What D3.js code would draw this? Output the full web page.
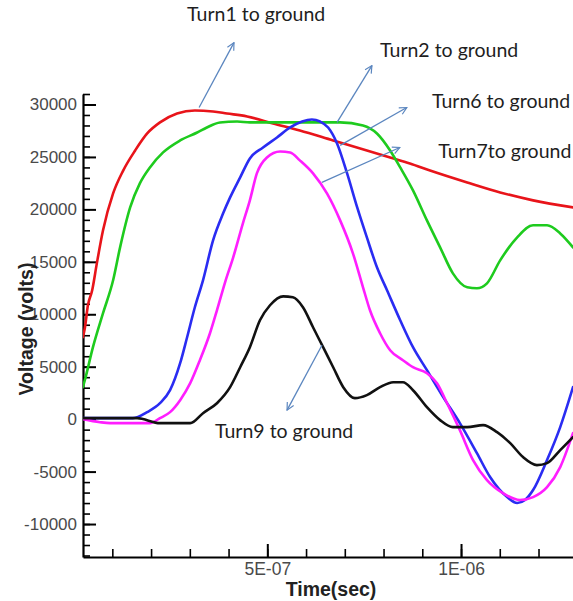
<!DOCTYPE html>
<html>
<head>
<meta charset="utf-8">
<script src="https://cdn.jsdelivr.net/npm/d3@7"></script>
<style>
  html, body { margin: 0; padding: 0; background: #fff; }
  svg { display: block; }
</style>
</head>
<body>
<svg id="chart" width="573" height="601"></svg>
<script>
// ---- data (time in ns, voltage in volts) ----
const turn1 = [[24,7810],[29,8670],[37,10850],[48,12290],[60,14850],[76,18000],[102,21520],[128,23700],[159,25620],[190,27240],[223,28290],[267,29140],[313,29430],[360,29330],[396,29140],[448,28860],[515,28190],[584,27520],[670,26570],[757,25620],[817,24950],[868,24380],[920,23710],[1016,22570],[1101,21620],[1186,20860],[1289,20190]];
const turn7 = [[24,3050],[29,3710],[50,6860],[76,10100],[102,13240],[120,16380],[146,20190],[171,22480],[197,24000],[231,25430],[275,26570],[319,27330],[344,27810],[378,28290],[422,28380],[455,28290],[515,28290],[603,28290],[688,28290],[747,28000],[783,27240],[817,25620],[843,24000],[876,21810],[912,18950],[946,16380],[979,13900],[1016,12570],[1041,12480],[1067,12950],[1101,15140],[1145,17330],[1186,18480],[1222,18480],[1256,17710],[1289,16380]];
const turn2 = [[24,95],[153,95],[190,670],[223,1520],[249,2760],[275,5330],[293,7810],[313,10670],[334,13240],[360,17050],[386,19620],[404,21140],[430,23050],[455,24860],[489,25900],[525,26860],[559,27810],[590,28380],[615,28570],[636,28380],[657,27810],[680,26290],[706,23430],[732,20190],[757,17330],[783,14480],[809,12290],[843,9430],[876,6860],[912,4670],[954,2100],[997,-380],[1041,-3240],[1075,-5520],[1119,-7430],[1145,-8000],[1165,-7710],[1186,-6760],[1222,-3900],[1256,-760],[1289,3050]];
const turn6 = [[24,0],[68,-290],[94,-380],[197,-380],[223,95],[249,670],[275,1810],[301,3430],[326,5620],[352,8190],[370,10380],[391,13050],[412,15430],[437,18670],[455,20860],[473,23430],[499,24950],[533,25520],[559,25430],[584,24670],[618,23430],[654,21520],[688,18950],[721,15810],[747,12570],[765,10380],[791,8190],[817,6570],[850,5620],[876,4950],[912,4380],[938,3430],[964,1520],[997,-1050],[1031,-3900],[1067,-5810],[1108,-7050],[1152,-7710],[1186,-7430],[1222,-6480],[1256,-4570],[1289,-1330]];
const turn9 = [[24,95],[164,95],[223,-380],[301,-380],[334,570],[370,1520],[404,3050],[430,4950],[455,6860],[481,9430],[507,10860],[541,11710],[566,11620],[592,10670],[618,8760],[644,6860],[670,4950],[696,3050],[726,2000],[757,2290],[791,3050],[825,3520],[850,3520],[876,2760],[912,1140],[946,-95],[979,-760],[1016,-760],[1057,-570],[1093,-1240],[1127,-2290],[1160,-3620],[1196,-4380],[1222,-4190],[1256,-2950],[1289,-1710]];

const seriesNames = ["Turn1", "Turn7", "Turn2", "Turn6", "Turn9"];
const seriesData  = [turn1, turn7, turn2, turn6, turn9];
const seriesColors = ["#e8141a", "#1ecb1e", "#2a2cf2", "#ff1eff", "#111111"];

const xTickValues = [500, 1000];            // ns
const xTickLabels = ["5E-07", "1E-06"];
const yTickValues = [-10000, -5000, 0, 5000, 10000, 15000, 20000, 25000, 30000];
const yTickLabels = ["-10000", "-5000", "0", "5000", "10000", "15000", "20000", "25000", "30000"];

// annotation labels: text, text anchor point, arrow from, arrow to (data coords)
const annLabels = ["Turn1 to ground", "Turn2 to ground", "Turn6 to ground", "Turn7to ground", "Turn9 to ground"];
const annText   = [[293,37950],[791,34480],[925,29620],[941,24860],[365,-1810]];
const annFrom   = [[324,29710],[680,28290],[688,26100],[641,22570],[641,7050]];
const annTo     = [[414,35900],[770,33710],[860,29710],[842,25900],[551,860]];

// ---- layout ----
const W = 573, H = 601;
const L = 83, R = 573, T = 94, B = 557;

const svg = d3.select("#chart");
const x = d3.scaleLinear().domain([24.3, 1289]).range([L, R]);
const y = d3.scaleLinear().domain([-13143, 31000]).range([B, T]);

svg.append("defs").append("clipPath").attr("id", "clip")
  .append("rect").attr("x", L).attr("y", 0).attr("width", R - L).attr("height", B);

// minor ticks
const yMinor = d3.range(-13000, 31001, 1000);
svg.append("g").attr("transform", `translate(${L},0)`)
  .call(d3.axisLeft(y).tickValues(yMinor).tickSizeInner(-7).tickSizeOuter(0).tickFormat(""))
  .call(g => g.select(".domain").remove())
  .call(g => g.selectAll("line").attr("stroke", "#000").attr("stroke-width", 1.6));
const xMinor = d3.range(100, 1289, 100);
svg.append("g").attr("transform", `translate(0,${B})`)
  .call(d3.axisBottom(x).tickValues(xMinor).tickSizeInner(-8).tickSizeOuter(0).tickFormat(""))
  .call(g => g.select(".domain").remove())
  .call(g => g.selectAll("line").attr("stroke", "#000").attr("stroke-width", 1.6));

// major axes
const yAxis = svg.append("g").attr("transform", `translate(${L},0)`)
  .call(d3.axisLeft(y).tickValues(yTickValues).tickSizeInner(-13).tickSizeOuter(0).tickPadding(6)
    .tickFormat((d, i) => yTickLabels[i]));
yAxis.select(".domain").attr("stroke", "#000").attr("stroke-width", 2.2);
yAxis.selectAll("line").attr("stroke", "#000").attr("stroke-width", 2);
yAxis.selectAll("text").attr("font-family", "Liberation Sans, Arial, sans-serif")
  .attr("font-size", 17).attr("fill", "#4a4a4a");

const xAxis = svg.append("g").attr("transform", `translate(0,${B})`)
  .call(d3.axisBottom(x).tickValues(xTickValues).tickSizeInner(-13).tickSizeOuter(0).tickPadding(6)
    .tickFormat((d, i) => xTickLabels[i]));
xAxis.select(".domain").attr("stroke", "#000").attr("stroke-width", 2.2);
xAxis.selectAll("line").attr("stroke", "#000").attr("stroke-width", 2);
xAxis.selectAll("text").attr("font-family", "Liberation Sans, Arial, sans-serif")
  .attr("font-size", 17.5).attr("fill", "#4a4a4a");

// axis titles
svg.append("text").attr("x", 331).attr("y", 596).attr("text-anchor", "middle")
  .attr("font-family", "Liberation Sans, Arial, sans-serif").attr("font-weight", "bold")
  .attr("font-size", 19.5).attr("fill", "#222").text("Time(sec)");
svg.append("text").attr("transform", "translate(33,329) rotate(-90)").attr("text-anchor", "middle")
  .attr("font-family", "Liberation Sans, Arial, sans-serif").attr("font-weight", "bold")
  .attr("font-size", 19.5).attr("fill", "#222").text("Voltage (volts)");

// series lines
const line = d3.line().x(d => x(d[0])).y(d => y(d[1])).curve(d3.curveMonotoneX);
const gLines = svg.append("g").attr("clip-path", "url(#clip)");
seriesData.forEach((s, i) => {
  gLines.append("path").datum(s).attr("d", line)
    .attr("fill", "none").attr("stroke", seriesColors[i])
    .attr("stroke-width", 2.6).attr("stroke-linejoin", "round").attr("stroke-linecap", "round");
});

// annotations
const arrowColor = "#5b86bf";
svg.select("defs").append("marker").attr("id", "arr")
  .attr("viewBox", "0 0 10 10").attr("refX", 9).attr("refY", 5)
  .attr("markerWidth", 9).attr("markerHeight", 9).attr("markerUnits", "userSpaceOnUse")
  .attr("orient", "auto")
  .append("path").attr("d", "M1,1 L9,5 L1,9").attr("fill", "none")
  .attr("stroke", arrowColor).attr("stroke-width", 1.3);

annLabels.forEach((lab, i) => {
  svg.append("line")
    .attr("x1", x(annFrom[i][0])).attr("y1", y(annFrom[i][1]))
    .attr("x2", x(annTo[i][0])).attr("y2", y(annTo[i][1]))
    .attr("stroke", arrowColor).attr("stroke-width", 1.3).attr("marker-end", "url(#arr)");
  svg.append("text").attr("x", x(annText[i][0])).attr("y", y(annText[i][1]))
    .attr("font-family", "Lato, 'Open Sans', sans-serif").attr("font-size", 19.5)
    .attr("fill", "#1e1e1e").text(lab);
});
</script>
</body>
</html>
